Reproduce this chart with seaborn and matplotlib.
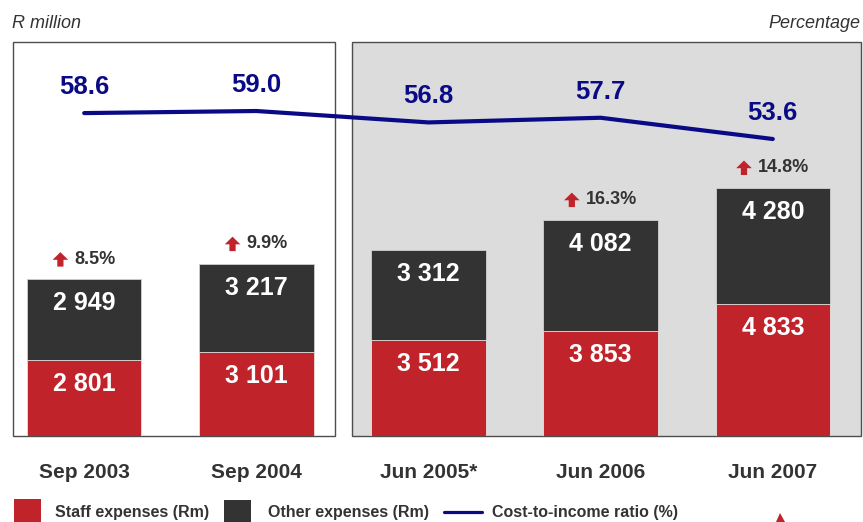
import numpy as np
import pandas as pd
import matplotlib
matplotlib.use("Agg")
import matplotlib.pyplot as plt
import matplotlib.transforms as mtransforms
from matplotlib.patches import Rectangle, Polygon
from matplotlib.offsetbox import AnnotationBbox, DrawingArea, HPacker, TextArea
import seaborn as sns

# ---- data -------------------------------------------------------------
periods = ["Sep 2003", "Sep 2004", "Jun 2005*", "Jun 2006", "Jun 2007"]
staff_expenses = [2801, 3101, 3512, 3853, 4833]
other_expenses = [2949, 3217, 3312, 4082, 4280]
cost_to_income = [58.6, 59.0, 56.8, 57.7, 53.6]
growth_pct = ["8.5%", "9.9%", None, "16.3%", "14.8%"]

# ---- style ------------------------------------------------------------
sns.set_style("white")
plt.rcParams["font.family"] = ["Liberation Sans", "DejaVu Sans"]

RED = "#c1232a"
DARK = "#333333"
NAVY = "#0a0a86"
PANEL_GREY = "#dcdcdc"
TEXT = "#333333"

W, H = 863, 522
fig = plt.figure(figsize=(W / 100, H / 100), dpi=100)

# plot area in pixels
px_left, px_right, px_top, px_bottom = 13, 861, 42, 436
ax = fig.add_axes([px_left / W, (H - px_bottom) / H,
                   (px_right - px_left) / W, (px_bottom - px_top) / H])

df = pd.DataFrame({
    "period": periods,
    "staff": staff_expenses,
    "other": other_expenses,
})
df["total"] = df["staff"] + df["other"]

bar_w = 0.665
# stacked bars: totals (dark) underneath, staff (red) on top of them
sns.barplot(data=df, x="period", y="total", color=DARK, saturation=1,
            width=bar_w, edgecolor="#d0d0d0", linewidth=0.6, ax=ax, zorder=2)
sns.barplot(data=df, x="period", y="staff", color=RED, saturation=1,
            width=bar_w, edgecolor="#e6e6e6", linewidth=0.6, ax=ax, zorder=2)

# horizontal layout: slot spacing and first slot centre in pixels
slot_px, first_px = 172.15, 84.2
to_x = lambda p: (p - first_px) / slot_px
ax.set_xlim(to_x(px_left), to_x(px_right))
ax.set_ylim(0, 14464)

# two framed panels behind the bars
blend = mtransforms.blended_transform_factory(ax.transData, ax.transAxes)
for x0, x1, fc in [(to_x(13), to_x(335), "white"),
                   (to_x(352), to_x(861), PANEL_GREY)]:
    ax.add_patch(Rectangle((x0, 0), x1 - x0, 1, transform=blend,
                           facecolor=fc, edgecolor="#4d4d4d", linewidth=1.0,
                           clip_on=False, zorder=0))

for s in ax.spines.values():
    s.set_visible(False)
ax.set_facecolor("none")
ax.set_xlabel("")
ax.set_ylabel("")
ax.set_yticks([])
ax.set_xticks(range(len(periods)))
ax.set_xticklabels(periods, fontsize=15, fontweight="bold", color=TEXT)
ax.tick_params(axis="x", length=0, pad=30.2)
for lab in ax.get_xticklabels():
    lab.set_va("baseline")

# value labels inside each segment
fmt = lambda v: f"{v:,}".replace(",", " ")
for i, (s, t) in enumerate(zip(df["staff"], df["total"])):
    for top, val in [(s, s), (t, t - s)]:
        ax.annotate(fmt(int(val)), (i, top), xytext=(0, -17.3),
                    textcoords="offset points", ha="center", va="center",
                    fontsize=18, fontweight="bold", color="white", zorder=4)


def up_arrow(color=RED, w=11.2, h=10.4):
    da = DrawingArea(w, h, 0, 0)
    sw = w * 0.40
    verts = [(0, h * 0.47), (w / 2, h), (w, h * 0.47),
             ((w + sw) / 2, h * 0.47), ((w + sw) / 2, 0),
             ((w - sw) / 2, 0), ((w - sw) / 2, h * 0.47)]
    da.add_artist(Polygon(verts, closed=True, facecolor=color, edgecolor="none"))
    return da


# growth annotations above the bars
for i, (t, g) in enumerate(zip(df["total"], growth_pct)):
    if g is None:
        continue
    txt = TextArea(g, textprops=dict(fontsize=13, fontweight="bold", color=TEXT))
    box = HPacker(children=[up_arrow(), txt], align="center", pad=0, sep=4.6)
    ab = AnnotationBbox(box, (i, t), xybox=(0, 14.4), boxcoords="offset points",
                        box_alignment=(0.5, 0.5), frameon=False, pad=0,
                        annotation_clip=False, zorder=4)
    ax.add_artist(ab)

# cost-to-income ratio on a secondary scale
ax2 = ax.twinx()
sns.lineplot(x=np.arange(len(periods)), y=cost_to_income, color=NAVY,
             linewidth=3, ax=ax2, sort=False)
ax2.set_ylim(-3.68, 72.31)
ax2.set_xlim(ax.get_xlim())
ax2.set_yticks([])
for s in ax2.spines.values():
    s.set_visible(False)
for i, v in enumerate(cost_to_income):
    ax2.annotate(f"{v:.1f}", (i, v), xytext=(0, 18.8), textcoords="offset points",
                 ha="center", va="center", fontsize=18.5, fontweight="bold",
                 color=NAVY)

# axis captions
fig.text(12 / W, 1 - 28 / H, "R million", fontsize=13, style="italic",
         color=TEXT, ha="left", va="baseline")
fig.text(860 / W, 1 - 28 / H, "Percentage", fontsize=13, style="italic",
         color=TEXT, ha="right", va="baseline")

# legend
ftr = fig.transFigure
fig.add_artist(Rectangle((14 / W, 0), 27 / W, (H - 499) / H, transform=ftr,
                         facecolor=RED, edgecolor="none"))
fig.add_artist(Rectangle((224 / W, 0), 27 / W, (H - 500) / H, transform=ftr,
                         facecolor=DARK, edgecolor="none"))
fig.add_artist(plt.Line2D([444 / W, 482 / W], [1 - 512 / H, 1 - 512 / H],
                          transform=ftr, color=NAVY, linewidth=2.3))
for x, label in [(55, "Staff expenses (Rm)"), (268, "Other expenses (Rm)"),
                 (492, "Cost-to-income ratio (%)")]:
    fig.text(x / W, 1 - 513 / H, label, fontsize=11.5, fontweight="bold",
             color=TEXT, ha="left", va="center")

# small red marker tip at the lower edge
fig.add_artist(Polygon([(776 / W, 0), (780 / W, 1 - 513 / H), (785 / W, 0)],
                       closed=True, transform=ftr, facecolor=RED,
                       edgecolor="none"))

fig.savefig("out.png", dpi=100)
